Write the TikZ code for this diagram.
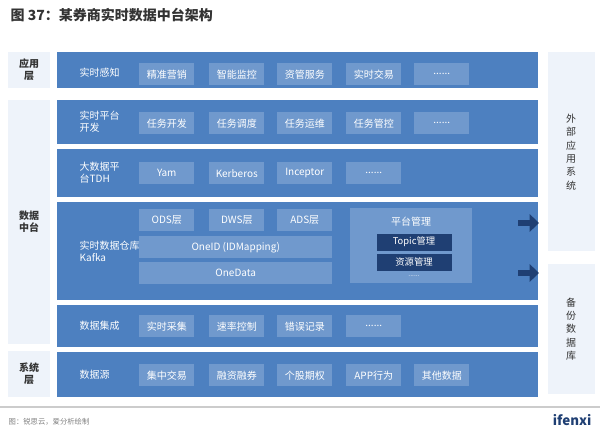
\documentclass[tikz,border=0pt]{standalone}
\usepackage{fontspec}
\setmainfont{Noto Sans CJK SC}
\usetikzlibrary{arrows.meta}
\definecolor{band}{HTML}{4D80C0}
\definecolor{item}{HTML}{7099CD}
\definecolor{side}{HTML}{EEF3FA}
\definecolor{dark}{HTML}{1F3F73}
\definecolor{tgray}{HTML}{333333}
\tikzset{x=0.75pt,y=-0.75pt,
 bandbox/.style={fill=band,draw=none},
 sidebox/.style={fill=side,draw=none},
 itembox/.style={fill=item,draw=none,text=white,font=\fontsize{7.5}{9}\selectfont,inner sep=0pt},
 lbl/.style={text=white,font=\fontsize{7.5}{9}\selectfont,align=left,anchor=west},
 slbl/.style={text=tgray,font=\bfseries\fontsize{7.5}{9}\selectfont,align=center}}
\newcommand{\itm}[5]{\node[itembox,minimum width=#3*0.75pt,minimum height=#4*0.75pt,anchor=north west] (#1) at (#2) {#5};}
\begin{document}
\begin{tikzpicture}
\useasboundingbox[fill=white] (0,0) rectangle (600,440);
\node[anchor=west,text=tgray,font=\bfseries\fontsize{10.5}{12}\selectfont] (title) at (6,15) {图 37：某券商实时数据中台架构};
% side
\fill[sidebox] (8,52) rectangle (50,88); \node[slbl] (s1) at (29,70) {应用\\层};
\fill[sidebox] (8,100) rectangle (50,344); \node[slbl] (s2) at (29,222) {数据\\中台};
\fill[sidebox] (8,351) rectangle (50,397); \node[slbl] (s3) at (29,374) {系统\\层};
% bands
\fill[bandbox] (57,52) rectangle (538,88);
\fill[bandbox] (57,100) rectangle (538,144);
\fill[bandbox] (57,149) rectangle (538,197);
\fill[bandbox] (57,202) rectangle (538,300);
\fill[bandbox] (57,305) rectangle (538,347);
\fill[bandbox] (57,352) rectangle (538,397);
\node[lbl] (l1) at (75,73) {实时感知};
\node[lbl] (l2) at (75,122) {实时平台\\开发};
\node[lbl] (l3) at (75,173) {大数据平\\台TDH};
\node[lbl] (l4) at (75,251) {实时数据仓库\\Kafka};
\node[lbl] (l5) at (75,326) {数据集成};
\node[lbl] (l6) at (75,375) {数据源};
% row1
\itm{a1}{139,63}{55}{22}{精准营销}\itm{a2}{209,63}{55}{22}{智能监控}\itm{a3}{277,63}{55}{22}{资管服务}\itm{a4}{346,63}{55}{22}{实时交易}\itm{a5}{414,63}{55}{22}{......}
\itm{b1}{139,112}{55}{22}{任务开发}\itm{b2}{209,112}{55}{22}{任务调度}\itm{b3}{277,112}{55}{22}{任务运维}\itm{b4}{346,112}{55}{22}{任务管控}\itm{b5}{414,112}{55}{22}{......}
\itm{c1}{139,162}{55}{22}{Yam}\itm{c2}{209,162}{55}{22}{Kerberos}\itm{c3}{277,162}{55}{22}{Inceptor}\itm{c4}{346,162}{55}{22}{......}
\itm{d1}{139,209}{55}{22}{ODS层}\itm{d2}{209,209}{55}{22}{DWS层}\itm{d3}{277,209}{55}{22}{ADS层}
\itm{d4}{139,236}{193}{22}{OneID (IDMapping)}\itm{d5}{139,262}{193}{22}{OneData}
\fill[item] (350,208) rectangle (472,283);
\node[text=white,font=\fontsize{7.5}{9}\selectfont] (pm) at (411,222) {平台管理};
\node[fill=dark,text=white,font=\fontsize{7}{8}\selectfont,minimum width=75*0.75pt,minimum height=17*0.75pt,inner sep=0pt] (t1) at (414,242) {Topic管理};
\node[fill=dark,text=white,font=\fontsize{7}{8}\selectfont,minimum width=75*0.75pt,minimum height=17*0.75pt,inner sep=0pt] (t2) at (414,262) {资源管理};
\node[text=white,font=\fontsize{5}{6}\selectfont] (t3) at (414,276) {......};
\itm{e1}{139,315}{55}{22}{实时采集}\itm{e2}{209,315}{55}{22}{速率控制}\itm{e3}{277,315}{55}{22}{错误记录}\itm{e4}{346,315}{55}{22}{......}
\itm{f1}{139,364}{55}{22}{集中交易}\itm{f2}{209,364}{55}{22}{融资融券}\itm{f3}{277,364}{55}{22}{个股期权}\itm{f4}{346,364}{55}{22}{APP行为}\itm{f5}{414,364}{55}{22}{其他数据}
% right
\fill[sidebox] (548,52) rectangle (595,251); \node[slbl,font=\fontsize{7.5}{10}\selectfont] (r1) at (571,152) {外\\部\\应\\用\\系\\统};
\fill[sidebox] (548,264) rectangle (595,394); \node[slbl,font=\fontsize{7.5}{10}\selectfont] (r2) at (571,329) {备\\份\\数\\据\\库};
\coordinate (ar1) at (518,223); \coordinate (ar1e) at (539,223);
\coordinate (ar2) at (518,273); \coordinate (ar2e) at (539,273);
\draw[dark,line width=4.5pt,-{Triangle[length=7pt,width=13pt]}] (ar1) -- (ar1e);
\draw[dark,line width=4.5pt,-{Triangle[length=7pt,width=13pt]}] (ar2) -- (ar2e);
% footer
\draw[gray!40,line width=1pt] (0,407) -- (600,407);
\node[anchor=west,text=gray,font=\fontsize{5.5}{6}\selectfont] (foot) at (4,422) {图：锐思云，爱分析绘制};
\node[anchor=east,text=dark,font=\bfseries\fontsize{10}{11}\selectfont] (logo) at (596,420) {ifenxi};
\end{tikzpicture}
\end{document}
